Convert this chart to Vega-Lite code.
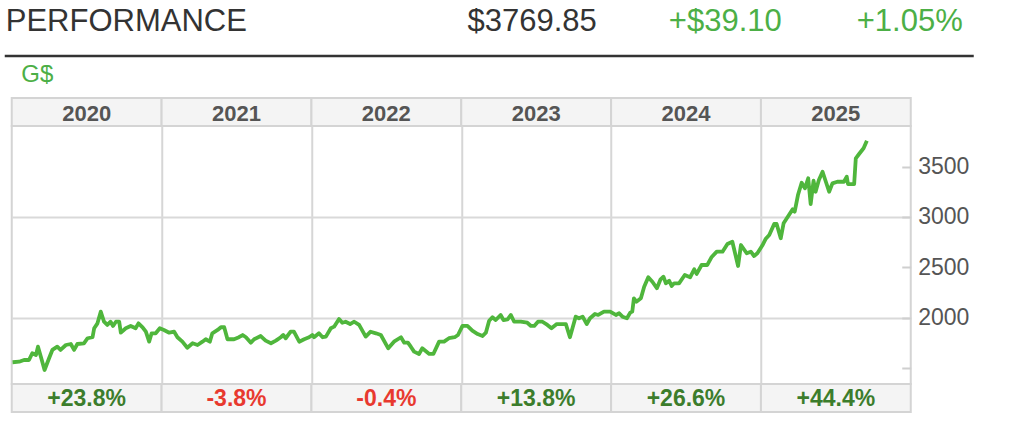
{
  "$schema": "https://vega.github.io/schema/vega-lite/v6.json",
  "padding": {"left": 2.75, "top": 0, "right": 0, "bottom": 0},
  "background": "white",
  "spacing": 0,
  "bounds": "flush",
  "config": {
    "view": {"stroke": null},
    "font": "Liberation Sans",
    "text": {"font": "Liberation Sans"},
    "axis": {"labelFont": "Liberation Sans"}
  },
  "resolve": {"scale": {"x": "independent", "y": "independent", "color": "independent"}},
  "datasets": {
    "years": [
      {"year": "2020", "chg": "+23.8%", "dir": "up"},
      {"year": "2021", "chg": "-3.8%", "dir": "down"},
      {"year": "2022", "chg": "-0.4%", "dir": "down"},
      {"year": "2023", "chg": "+13.8%", "dir": "up"},
      {"year": "2024", "chg": "+26.6%", "dir": "up"},
      {"year": "2025", "chg": "+44.4%", "dir": "up"}
    ],
    "gold": [
      {"date": "2020-01-03", "price": 1558}, {"date": "2020-01-19", "price": 1563}, {"date": "2020-01-31", "price": 1580}, {"date": "2020-02-12", "price": 1580},
      {"date": "2020-02-20", "price": 1647}, {"date": "2020-02-29", "price": 1630}, {"date": "2020-03-05", "price": 1712}, {"date": "2020-03-12", "price": 1613},
      {"date": "2020-03-21", "price": 1481}, {"date": "2020-04-01", "price": 1597}, {"date": "2020-04-09", "price": 1680}, {"date": "2020-04-21", "price": 1712},
      {"date": "2020-04-29", "price": 1680}, {"date": "2020-05-12", "price": 1729}, {"date": "2020-05-24", "price": 1739}, {"date": "2020-06-01", "price": 1680},
      {"date": "2020-06-09", "price": 1739}, {"date": "2020-06-25", "price": 1746}, {"date": "2020-07-04", "price": 1796}, {"date": "2020-07-16", "price": 1806},
      {"date": "2020-07-20", "price": 1895}, {"date": "2020-07-28", "price": 1944}, {"date": "2020-08-05", "price": 2060}, {"date": "2020-08-13", "price": 1960},
      {"date": "2020-08-21", "price": 1928}, {"date": "2020-08-29", "price": 1960}, {"date": "2020-09-04", "price": 1918}, {"date": "2020-09-11", "price": 1960},
      {"date": "2020-09-19", "price": 1960}, {"date": "2020-09-23", "price": 1851}, {"date": "2020-10-05", "price": 1895}, {"date": "2020-10-17", "price": 1918},
      {"date": "2020-10-29", "price": 1895}, {"date": "2020-11-05", "price": 1944}, {"date": "2020-11-15", "price": 1905}, {"date": "2020-11-23", "price": 1861},
      {"date": "2020-12-01", "price": 1762}, {"date": "2020-12-07", "price": 1845}, {"date": "2020-12-17", "price": 1845}, {"date": "2020-12-27", "price": 1895},
      {"date": "2021-01-06", "price": 1878}, {"date": "2021-01-19", "price": 1851}, {"date": "2021-01-31", "price": 1861}, {"date": "2021-02-08", "price": 1806},
      {"date": "2021-02-20", "price": 1762}, {"date": "2021-03-04", "price": 1702}, {"date": "2021-03-17", "price": 1746}, {"date": "2021-03-29", "price": 1729},
      {"date": "2021-04-10", "price": 1762}, {"date": "2021-04-18", "price": 1786}, {"date": "2021-04-28", "price": 1762}, {"date": "2021-05-04", "price": 1845},
      {"date": "2021-05-17", "price": 1878}, {"date": "2021-05-25", "price": 1905}, {"date": "2021-06-02", "price": 1905}, {"date": "2021-06-10", "price": 1786},
      {"date": "2021-06-26", "price": 1786}, {"date": "2021-07-08", "price": 1806}, {"date": "2021-07-17", "price": 1828}, {"date": "2021-07-25", "price": 1806},
      {"date": "2021-08-06", "price": 1752}, {"date": "2021-08-14", "price": 1786}, {"date": "2021-08-30", "price": 1818}, {"date": "2021-09-11", "price": 1772},
      {"date": "2021-09-24", "price": 1746}, {"date": "2021-10-06", "price": 1772}, {"date": "2021-10-18", "price": 1806}, {"date": "2021-10-24", "price": 1828},
      {"date": "2021-10-30", "price": 1796}, {"date": "2021-11-11", "price": 1861}, {"date": "2021-11-19", "price": 1861}, {"date": "2021-12-02", "price": 1762},
      {"date": "2021-12-14", "price": 1786}, {"date": "2021-12-26", "price": 1806}, {"date": "2022-01-03", "price": 1828}, {"date": "2022-01-07", "price": 1806},
      {"date": "2022-01-19", "price": 1845}, {"date": "2022-01-28", "price": 1806}, {"date": "2022-02-05", "price": 1812}, {"date": "2022-02-17", "price": 1895},
      {"date": "2022-02-25", "price": 1911}, {"date": "2022-03-09", "price": 1987}, {"date": "2022-03-17", "price": 1950}, {"date": "2022-03-25", "price": 1960},
      {"date": "2022-04-05", "price": 1937}, {"date": "2022-04-15", "price": 1960}, {"date": "2022-04-27", "price": 1928}, {"date": "2022-05-13", "price": 1812},
      {"date": "2022-05-25", "price": 1861}, {"date": "2022-06-07", "price": 1845}, {"date": "2022-06-19", "price": 1828}, {"date": "2022-07-07", "price": 1696},
      {"date": "2022-07-21", "price": 1762}, {"date": "2022-08-07", "price": 1806}, {"date": "2022-08-15", "price": 1752}, {"date": "2022-08-24", "price": 1752},
      {"date": "2022-08-31", "price": 1712}, {"date": "2022-09-08", "price": 1663}, {"date": "2022-09-20", "price": 1640}, {"date": "2022-09-28", "price": 1696},
      {"date": "2022-10-15", "price": 1640}, {"date": "2022-10-25", "price": 1640}, {"date": "2022-11-08", "price": 1762}, {"date": "2022-11-20", "price": 1762},
      {"date": "2022-12-02", "price": 1796}, {"date": "2022-12-16", "price": 1806}, {"date": "2022-12-24", "price": 1828}, {"date": "2023-01-04", "price": 1918},
      {"date": "2023-01-16", "price": 1918}, {"date": "2023-01-28", "price": 1871}, {"date": "2023-02-10", "price": 1838}, {"date": "2023-02-22", "price": 1818},
      {"date": "2023-03-02", "price": 1851}, {"date": "2023-03-10", "price": 1970}, {"date": "2023-03-18", "price": 2004}, {"date": "2023-03-26", "price": 1977},
      {"date": "2023-04-07", "price": 2027}, {"date": "2023-04-14", "price": 1977}, {"date": "2023-04-24", "price": 1984}, {"date": "2023-05-02", "price": 2027},
      {"date": "2023-05-10", "price": 1960}, {"date": "2023-05-26", "price": 1960}, {"date": "2023-06-11", "price": 1950}, {"date": "2023-06-20", "price": 1918},
      {"date": "2023-06-28", "price": 1918}, {"date": "2023-07-07", "price": 1960}, {"date": "2023-07-18", "price": 1960}, {"date": "2023-07-30", "price": 1928},
      {"date": "2023-08-09", "price": 1895}, {"date": "2023-08-22", "price": 1937}, {"date": "2023-09-13", "price": 1937}, {"date": "2023-09-23", "price": 1806},
      {"date": "2023-10-07", "price": 2010}, {"date": "2023-10-15", "price": 1994}, {"date": "2023-10-24", "price": 2010}, {"date": "2023-11-03", "price": 1937},
      {"date": "2023-11-11", "price": 1994}, {"date": "2023-11-23", "price": 2037}, {"date": "2023-12-01", "price": 2027}, {"date": "2023-12-15", "price": 2060},
      {"date": "2023-12-30", "price": 2060}, {"date": "2024-01-13", "price": 2027}, {"date": "2024-01-21", "price": 2044}, {"date": "2024-01-29", "price": 2010},
      {"date": "2024-02-09", "price": 1994}, {"date": "2024-02-17", "price": 2050}, {"date": "2024-02-22", "price": 2060}, {"date": "2024-02-26", "price": 2192},
      {"date": "2024-03-03", "price": 2159}, {"date": "2024-03-14", "price": 2192}, {"date": "2024-03-22", "price": 2308}, {"date": "2024-04-01", "price": 2401},
      {"date": "2024-04-11", "price": 2357}, {"date": "2024-04-22", "price": 2292}, {"date": "2024-05-01", "price": 2381}, {"date": "2024-05-08", "price": 2407},
      {"date": "2024-05-14", "price": 2341}, {"date": "2024-05-22", "price": 2367}, {"date": "2024-05-28", "price": 2314}, {"date": "2024-06-03", "price": 2341},
      {"date": "2024-06-15", "price": 2341}, {"date": "2024-06-29", "price": 2424}, {"date": "2024-07-12", "price": 2401}, {"date": "2024-07-22", "price": 2480},
      {"date": "2024-07-28", "price": 2434}, {"date": "2024-08-09", "price": 2523}, {"date": "2024-08-23", "price": 2523}, {"date": "2024-09-02", "price": 2599},
      {"date": "2024-09-15", "price": 2655}, {"date": "2024-09-29", "price": 2655}, {"date": "2024-10-11", "price": 2731}, {"date": "2024-10-23", "price": 2754},
      {"date": "2024-11-06", "price": 2513}, {"date": "2024-11-13", "price": 2721}, {"date": "2024-11-27", "price": 2639}, {"date": "2024-12-07", "price": 2655},
      {"date": "2024-12-15", "price": 2612}, {"date": "2024-12-23", "price": 2639}, {"date": "2025-01-04", "price": 2716}, {"date": "2025-01-12", "price": 2780},
      {"date": "2025-01-21", "price": 2820}, {"date": "2025-02-02", "price": 2930}, {"date": "2025-02-08", "price": 2930}, {"date": "2025-02-18", "price": 2788},
      {"date": "2025-02-25", "price": 2937}, {"date": "2025-03-10", "price": 3019}, {"date": "2025-03-19", "price": 3075}, {"date": "2025-03-24", "price": 3052},
      {"date": "2025-04-01", "price": 3217}, {"date": "2025-04-10", "price": 3339}, {"date": "2025-04-18", "price": 3284}, {"date": "2025-04-26", "price": 3383},
      {"date": "2025-05-02", "price": 3128}, {"date": "2025-05-09", "price": 3359}, {"date": "2025-05-14", "price": 3250}, {"date": "2025-05-22", "price": 3366},
      {"date": "2025-05-31", "price": 3448}, {"date": "2025-06-08", "price": 3349}, {"date": "2025-06-16", "price": 3250}, {"date": "2025-06-24", "price": 3333},
      {"date": "2025-07-06", "price": 3349}, {"date": "2025-07-22", "price": 3349}, {"date": "2025-07-29", "price": 3399}, {"date": "2025-08-01", "price": 3326},
      {"date": "2025-08-16", "price": 3326}, {"date": "2025-08-20", "price": 3581}, {"date": "2025-08-28", "price": 3624}, {"date": "2025-09-08", "price": 3681},
      {"date": "2025-09-16", "price": 3756}
    ]
  },
  "vconcat": [
    {
      "width": 899,
      "height": 98,
      "data": {"values": [{"item": "PERFORMANCE"}]},
      "layer": [
        {
          "mark": {"type": "rule", "color": "#333333", "strokeWidth": 2.5},
          "encoding": {"x": {"value": -7}, "x2": {"value": 962}, "y": {"value": 56}}
        },
        {
          "mark": {"type": "text", "text": "PERFORMANCE", "align": "left", "baseline": "alphabetic", "fontSize": 31, "color": "#333333"},
          "encoding": {"x": {"value": -6}, "y": {"value": 31}}
        },
        {
          "mark": {"type": "text", "text": "$3769.85", "align": "right", "baseline": "alphabetic", "fontSize": 31, "color": "#333333"},
          "encoding": {"x": {"value": 585}, "y": {"value": 31}}
        },
        {
          "mark": {"type": "text", "text": "+$39.10", "align": "right", "baseline": "alphabetic", "fontSize": 31, "color": "#4caf46"},
          "encoding": {"x": {"value": 770}, "y": {"value": 31}}
        },
        {
          "mark": {"type": "text", "text": "+1.05%", "align": "right", "baseline": "alphabetic", "fontSize": 31, "color": "#4caf46"},
          "encoding": {"x": {"value": 951}, "y": {"value": 31}}
        },
        {
          "mark": {"type": "text", "text": "G$", "align": "left", "baseline": "alphabetic", "fontSize": 24, "color": "#4caf46"},
          "encoding": {"x": {"value": 9.5}, "y": {"value": 82}}
        }
      ]
    },
    {
      "width": 899,
      "height": 28,
      "data": {"name": "years"},
      "layer": [
        {
          "mark": {"type": "rect", "fill": "#f4f4f4", "stroke": "#d4d4d4", "strokeWidth": 2},
          "encoding": {"x": {"field": "year", "type": "ordinal", "scale": {"type": "band", "paddingInner": 0, "paddingOuter": 0}, "axis": null}}
        },
        {
          "mark": {"type": "text", "fontWeight": "bold", "fontSize": 22, "color": "#555555", "baseline": "alphabetic"},
          "encoding": {
            "x": {"field": "year", "type": "ordinal", "axis": null},
            "y": {"value": 22.7},
            "text": {"field": "year"}
          }
        }
      ]
    },
    {
      "width": 899,
      "height": 258,
      "view": {"stroke": "#d4d4d4", "strokeWidth": 2},
      "data": {"name": "gold"},
      "mark": {"type": "line", "color": "#4fb63c", "strokeWidth": 3.8, "strokeJoin": "round"},
      "encoding": {
        "x": {
          "field": "date", "type": "temporal",
          "scale": {"type": "utc", "domain": [{"year": 2020, "month": 1, "date": 1, "utc": true}, {"year": 2026, "month": 1, "date": 1, "utc": true}]},
          "axis": {
            "orient": "bottom", "title": null, "labels": false, "ticks": false, "domain": false,
            "grid": true, "gridColor": "#d6d6d6", "gridWidth": 2,
            "values": [
              {"year": 2021, "month": 1, "date": 1, "utc": true},
              {"year": 2022, "month": 1, "date": 1, "utc": true},
              {"year": 2023, "month": 1, "date": 1, "utc": true},
              {"year": 2024, "month": 1, "date": 1, "utc": true},
              {"year": 2025, "month": 1, "date": 1, "utc": true}
            ]
          }
        },
        "y": {
          "field": "price", "type": "quantitative",
          "scale": {"domain": [1342, 3902], "nice": false, "zero": false},
          "axis": {
            "orient": "right", "title": null, "values": [1500, 2000, 2500, 3000, 3500],
            "format": "d",
            "labelExpr": "datum.value < 2000 ? '' : datum.label",
            "domain": false, "ticks": true, "tickSize": -9, "tickColor": "#cfcfcf", "tickWidth": 2,
            "labelPadding": 16, "labelFontSize": 23, "labelColor": "#555555",
            "grid": true, "gridWidth": 2,
            "gridColor": {"condition": {"test": "datum.value % 1000 === 0", "value": "#d9d9d9"}, "value": "rgba(0,0,0,0)"}
          }
        }
      }
    },
    {
      "width": 899,
      "height": 28,
      "data": {"name": "years"},
      "layer": [
        {
          "mark": {"type": "rect", "fill": "#f4f4f4", "stroke": "#d4d4d4", "strokeWidth": 2},
          "encoding": {"x": {"field": "year", "type": "ordinal", "scale": {"type": "band", "paddingInner": 0, "paddingOuter": 0}, "axis": null}}
        },
        {
          "mark": {"type": "text", "fontWeight": "bold", "fontSize": 23, "baseline": "alphabetic"},
          "encoding": {
            "x": {"field": "year", "type": "ordinal", "axis": null},
            "y": {"value": 22},
            "text": {"field": "chg"},
            "color": {"field": "dir", "type": "nominal", "scale": {"domain": ["up", "down"], "range": ["#3c7d2c", "#e8392f"]}, "legend": null}
          }
        }
      ]
    }
  ]
}
